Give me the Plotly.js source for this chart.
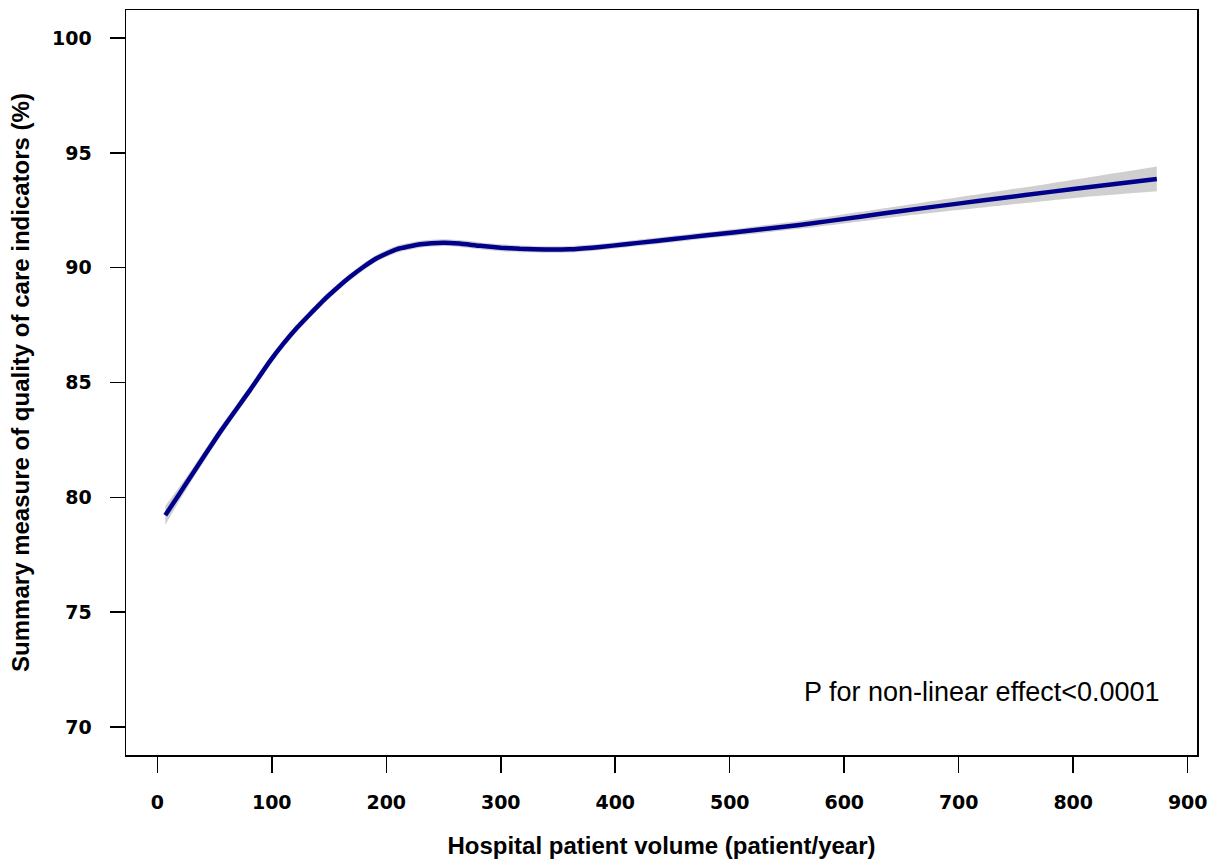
<!DOCTYPE html>
<html>
<head>
<meta charset="utf-8">
<script src="https://cdn.plot.ly/plotly-3.0.1.min.js"></script>
<style>html,body{margin:0;padding:0;background:#fff;}#chart{width:1213px;height:860px;}</style>
</head>
<body>
<div id="chart"></div>
<script>
const volume = [7, 20, 31, 45, 55, 70, 81, 98, 110, 122, 135, 145, 158, 168, 180, 192, 209, 230, 250, 264, 282, 300, 317, 340, 360, 380, 398, 420, 451, 480, 526, 561, 614, 650, 701, 736, 780, 820, 873];
const quality = [79.22, 80.2, 81.04, 82.1, 82.85, 83.9, 84.67, 85.9, 86.68, 87.38, 88.06, 88.57, 89.16, 89.58, 90.03, 90.42, 90.8, 91.02, 91.09, 91.05, 90.95, 90.87, 90.82, 90.79, 90.8, 90.87, 90.96, 91.08, 91.25, 91.41, 91.66, 91.86, 92.22, 92.47, 92.8, 93.02, 93.3, 93.55, 93.86];
const lowerCI = [78.8, 79.9, 80.8, 81.88, 82.64, 83.7, 84.48, 85.72, 86.51, 87.21, 87.9, 88.41, 89.01, 89.43, 89.88, 90.27, 90.65, 90.87, 90.94, 90.9, 90.8, 90.72, 90.67, 90.65, 90.66, 90.73, 90.82, 90.94, 91.11, 91.27, 91.5, 91.69, 92.01, 92.24, 92.52, 92.7, 92.93, 93.12, 93.33];
const upperCI = [79.62, 80.5, 81.28, 82.32, 83.06, 84.1, 84.86, 86.08, 86.85, 87.55, 88.22, 88.73, 89.31, 89.73, 90.18, 90.57, 90.95, 91.17, 91.24, 91.2, 91.1, 91.02, 90.97, 90.93, 90.94, 91.01, 91.1, 91.22, 91.39, 91.55, 91.82, 92.03, 92.43, 92.7, 93.08, 93.34, 93.67, 93.98, 94.4];
const xTicks = [0, 100, 200, 300, 400, 500, 600, 700, 800, 900];
const yTicks = [70, 75, 80, 85, 90, 95, 100];

const traces = [
  {x: volume, y: lowerCI, type: 'scatter', mode: 'lines', line: {width: 0, color: 'rgba(0,0,0,0)', shape: 'spline', smoothing: 0.5}, hoverinfo: 'skip', showlegend: false},
  {x: volume, y: upperCI, type: 'scatter', mode: 'lines', fill: 'tonexty', fillcolor: '#cfcfcf', line: {width: 0, color: 'rgba(0,0,0,0)', shape: 'spline', smoothing: 0.5}, hoverinfo: 'skip', showlegend: false},
  {x: volume, y: quality, type: 'scatter', mode: 'lines', line: {color: '#00008B', width: 4.5, shape: 'spline', smoothing: 0.5}, showlegend: false}
];

const tickFont = {family: 'DejaVu Sans, Verdana, sans-serif', size: 19, color: '#000', weight: 'bold'};
const titleFont = {family: 'Liberation Sans, Arial, sans-serif', size: 24, color: '#000', weight: 'bold'};

const layout = {
  width: 1213, height: 860,
  margin: {l: 126, r: 16, t: 10, b: 105},
  paper_bgcolor: '#fff', plot_bgcolor: '#fff',
  showlegend: false,
  xaxis: {
    range: [-27.3, 908.1], tickvals: xTicks, ticktext: xTicks.map(String),
    ticks: 'outside', ticklen: 16, tickwidth: 1.5, tickcolor: '#000',
    showline: true, linecolor: '#000', linewidth: 1.5, mirror: true,
    showgrid: false, zeroline: false,
    tickfont: tickFont,
    ticklabelstandoff: 14,
    title: {text: 'Hospital patient volume (patient/year)', font: titleFont, standoff: 25}
  },
  yaxis: {
    range: [68.78, 101.22], tickvals: yTicks, ticktext: yTicks.map(String),
    ticks: 'outside', ticklen: 15, tickwidth: 1.5, tickcolor: '#000',
    showline: true, linecolor: '#000', linewidth: 1.5, mirror: true,
    showgrid: false, zeroline: false,
    tickfont: tickFont,
    ticklabelstandoff: 14,
    title: {text: 'Summary measure of quality of care indicators (%)', font: titleFont, standoff: 15}
  },
  annotations: [{
    text: 'P for non-linear effect<0.0001',
    xref: 'paper', yref: 'paper', x: 0.967, y: 0.085, xanchor: 'right', yanchor: 'middle',
    showarrow: false,
    font: {family: 'Liberation Sans, Arial, sans-serif', size: 27, color: '#000'}
  }]
};

Plotly.newPlot('chart', traces, layout, {displayModeBar: false, staticPlot: true});
</script>
</body>
</html>
